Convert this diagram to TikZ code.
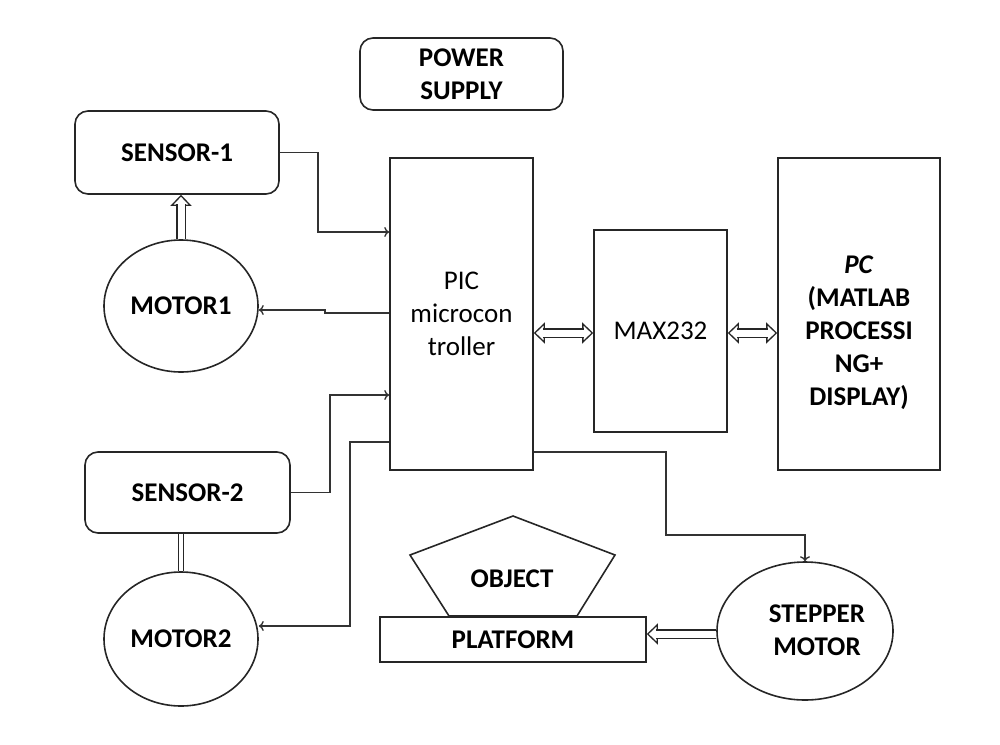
\documentclass[tikz,border=0pt]{standalone}
\usepackage{fontspec}
\setmainfont{Carlito}
\usetikzlibrary{shapes.geometric,arrows.meta}
\tikzset{HTip/.tip={Triangle[length=11pt,width=21pt,line width=1.3pt,color=black!85,fill=white]}}
\begin{document}
\begin{tikzpicture}[x=1pt,y=-1pt,
 box/.style={draw=black!85, line width=1.6pt, inner sep=0pt},
 rbox/.style={box, rounded corners=13pt},
 oval/.style={box, ellipse},
 bf/.style={font=\fontsize{27}{33}\selectfont\bfseries, align=center},
 rg/.style={font=\fontsize{27}{33}\selectfont, align=center},
 wire/.style={draw=black!80, line width=1.4pt, -{To[length=5pt,width=10pt]}},
 dline/.style={draw=black!85, line width=1.3pt, double, double distance=7pt},
 hhead/.style={draw=white, line width=0.3pt},
]
\useasboundingbox (0,0) rectangle (1000,744);

% blocks
\node[rbox, bf, minimum width=203pt, minimum height=72pt] (ps) at (461.5,74) {POWER\\SUPPLY};
\node[rbox, bf, minimum width=204pt, minimum height=83pt] (s1) at (177,152.5) {SENSOR-1};
\node[oval, bf, minimum width=154pt, minimum height=132pt] (m1) at (181,306) {MOTOR1};
\node[rbox, bf, minimum width=205pt, minimum height=81pt] (s2) at (187.5,492.5) {SENSOR-2};
\node[oval, bf, minimum width=154pt, minimum height=134pt] (m2) at (181,639) {MOTOR2};
\node[box, rg, minimum width=143pt, minimum height=312pt] (pic) at (461.5,314) {PIC\\microcon\\troller};
\node[box, rg, minimum width=133pt, minimum height=202pt] (max) at (660.5,331) {MAX232};
\node[box, minimum width=162pt, minimum height=312pt] (pc) at (859,314) {};
\node[bf] (pct) at (859,333) {\textit{PC}\\(MATLAB\\PROCESSI\\NG+\\DISPLAY)};
\draw[box] (513,516) -- (615,555) -- (577,616) -- (449,616) -- (410,555) -- cycle;
\node[bf] (obj) at (512,579) {OBJECT};
\node[box, bf, minimum width=266pt, minimum height=45pt] (plat) at (513,639.5) {PLATFORM};
\node[oval, minimum width=176pt, minimum height=138pt] (st) at (805,631) {};
\node[bf] (stt) at (817,630) {STEPPER\\MOTOR};

% thin wires
\draw[wire] (s1.east) -- (318,152.5) |- (pic.west |- 0,232);
\draw[wire] (pic.west |- 0,313) -- (325,313) -- (325,310) -- (m1.east |- 0,310);
\draw[wire] (s2.east) -- (330,492.5) |- (pic.west |- 0,395);
\draw[wire] (pic.west |- 0,442) -| (350,626) -- (m2.east |- 0,626);
\draw[wire] (pic.east |- 0,452) -- (666,452) -- (666,535) -| (st.north);

% hollow arrows
\draw[hhead, HTip-HTip] (pic.east |- 0,333) -- (max.west |- 0,333);
\draw[dline, shorten <=9pt, shorten >=9pt] (pic.east |- 0,333) -- (max.west |- 0,333);
\draw[hhead, HTip-HTip] (max.east |- 0,333) -- (pc.west |- 0,333);
\draw[dline, shorten <=9pt, shorten >=9pt] (max.east |- 0,333) -- (pc.west |- 0,333);
\draw[hhead, -HTip] (m1.north) -- (m1.north |- s1.south);
\draw[dline, shorten >=9pt] (m1.north) -- (m1.north |- s1.south);
\draw[hhead, -HTip] (st.west |- 0,634) -- (plat.east |- 0,634);
\draw[dline, shorten >=9pt] (st.west |- 0,634) -- (plat.east |- 0,634);
\draw[dline, double distance=4pt] (s2.south -| m2.north) -- (m2.north);
\end{tikzpicture}
\end{document}
